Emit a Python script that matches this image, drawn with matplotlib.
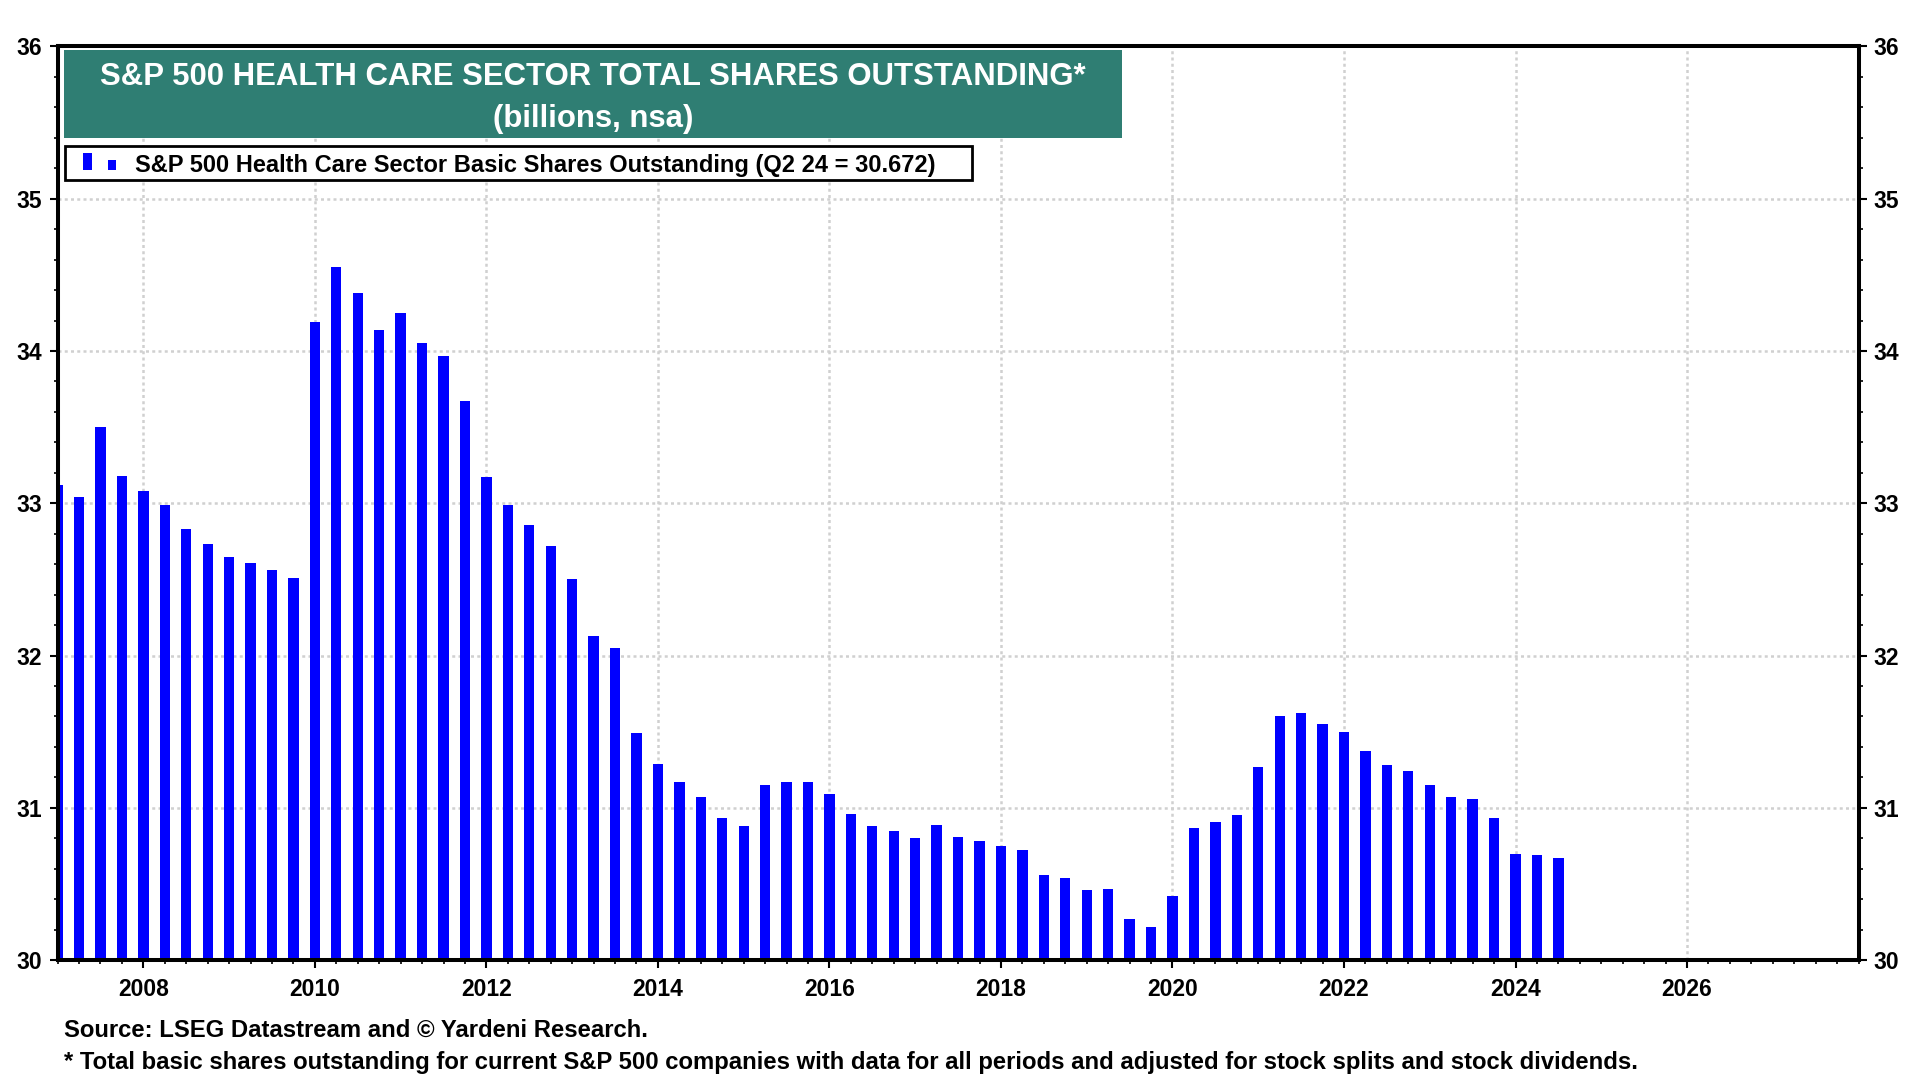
import numpy as np
import pandas as pd
import matplotlib
matplotlib.use('Agg')
from matplotlib import pyplot as plt
from matplotlib.patches import Rectangle
from matplotlib.ticker import MultipleLocator

# quarterly data, Q4 2006 .. Q2 2024 (billions)
quarters = pd.period_range('2006Q4', '2024Q2', freq='Q')
shares = [
    33.12, 33.04, 33.50, 33.18, 33.08, 32.99, 32.83, 32.73, 32.65, 32.61, 32.56, 32.51,
    34.19, 34.55, 34.38, 34.14, 34.25, 34.05, 33.97, 33.67, 33.17, 32.99, 32.86, 32.72,
    32.50, 32.13, 32.05, 31.49, 31.29, 31.17, 31.07, 30.93, 30.88, 31.15, 31.17, 31.17,
    31.09, 30.96, 30.88, 30.85, 30.80, 30.89, 30.81, 30.78, 30.75, 30.72, 30.56, 30.54,
    30.46, 30.47, 30.27, 30.22, 30.42, 30.87, 30.91, 30.95, 31.27, 31.60, 31.62, 31.55,
    31.50, 31.37, 31.28, 31.24, 31.15, 31.07, 31.06, 30.93, 30.70, 30.69, 30.672,
]
years = [2008, 2010, 2012, 2014, 2016, 2018, 2020, 2022, 2024, 2026]

title1 = 'S&P 500 HEALTH CARE SECTOR TOTAL SHARES OUTSTANDING*'
title2 = '(billions, nsa)'
legend_label = 'S&P 500 Health Care Sector Basic Shares Outstanding (Q2 24 = 30.672)'
source = 'Source: LSEG Datastream and \u00a9 Yardeni Research.'
note = ('* Total basic shares outstanding for current S&P 500 companies with data for all '
        'periods and adjusted for stock splits and stock dividends.')

# quarter-end as decimal year (Q4 2006 -> 2007.0)
x = np.array([q.year + q.quarter / 4 for q in quarters])

plt.rcParams['font.family'] = ['Liberation Sans', 'DejaVu Sans']
plt.rcParams['font.weight'] = 'bold'

fig = plt.figure(figsize=(19.2, 10.8), dpi=100)
ax = fig.add_axes([0.030, 0.111, 0.938, 0.846])

ax.bar(x, shares, width=0.12, bottom=0, color='#0000ff', zorder=2)
ax.set_xlim(2007, 2028)
ax.set_ylim(30, 36)

ax.set_xticks(years)
ax.set_xticklabels([str(y) for y in years])
ax.xaxis.set_minor_locator(MultipleLocator(0.25))
ax.yaxis.set_major_locator(MultipleLocator(1))
ax.yaxis.set_minor_locator(MultipleLocator(0.2))

ax.tick_params(axis='both', which='major', direction='out', length=6, width=1.5,
               labelsize=16.5, pad=7)
ax.tick_params(axis='both', which='minor', direction='out', length=2.6, width=1.2)
ax.tick_params(axis='y', which='both', left=True, right=True, labelleft=True, labelright=True)
ax.tick_params(axis='y', which='major', pad=5)
for lab in ax.get_xticklabels() + ax.get_yticklabels():
    lab.set_fontweight('bold')

ax.set_axisbelow(True)
ax.grid(True, which='major', color='#d0d0d0', linestyle=(0, (1.2, 1.3)), linewidth=1.8)
for sp in ax.spines.values():
    sp.set_linewidth(2.9)
    sp.set_color('black')
    sp.set_zorder(5)

# title box
fig.patches.append(Rectangle((0.0333, 0.8722), 0.5511, 0.0815, transform=fig.transFigure,
                             facecolor='#2f7e73', edgecolor='none', zorder=3))
fig.text(0.309, 0.9290, title1, color='white', fontsize=22.4, fontweight='bold',
         ha='center', va='center', zorder=4)
fig.text(0.309, 0.8900, title2, color='white', fontsize=22.4, fontweight='bold',
         ha='center', va='center', zorder=4)

# legend box
fig.patches.append(Rectangle((0.0339, 0.8333), 0.4724, 0.0315, transform=fig.transFigure,
                             facecolor='white', edgecolor='black', linewidth=2, zorder=3))
fig.patches.append(Rectangle((0.0432, 0.8426), 0.0047, 0.0157, transform=fig.transFigure,
                             facecolor='#0000ff', edgecolor='none', zorder=4))
fig.patches.append(Rectangle((0.0563, 0.8426), 0.0042, 0.0093, transform=fig.transFigure,
                             facecolor='#0000ff', edgecolor='none', zorder=4))
fig.text(0.0703, 0.8470, legend_label, color='black', fontsize=17, fontweight='bold',
         ha='left', va='center', zorder=4)

# footer
fig.text(0.0333, 0.0462, source, fontsize=17.2, fontweight='bold', ha='left', va='center')
fig.text(0.0333, 0.0165, note, fontsize=17.2, fontweight='bold', ha='left', va='center')

plt.savefig('out.png', dpi=100)
